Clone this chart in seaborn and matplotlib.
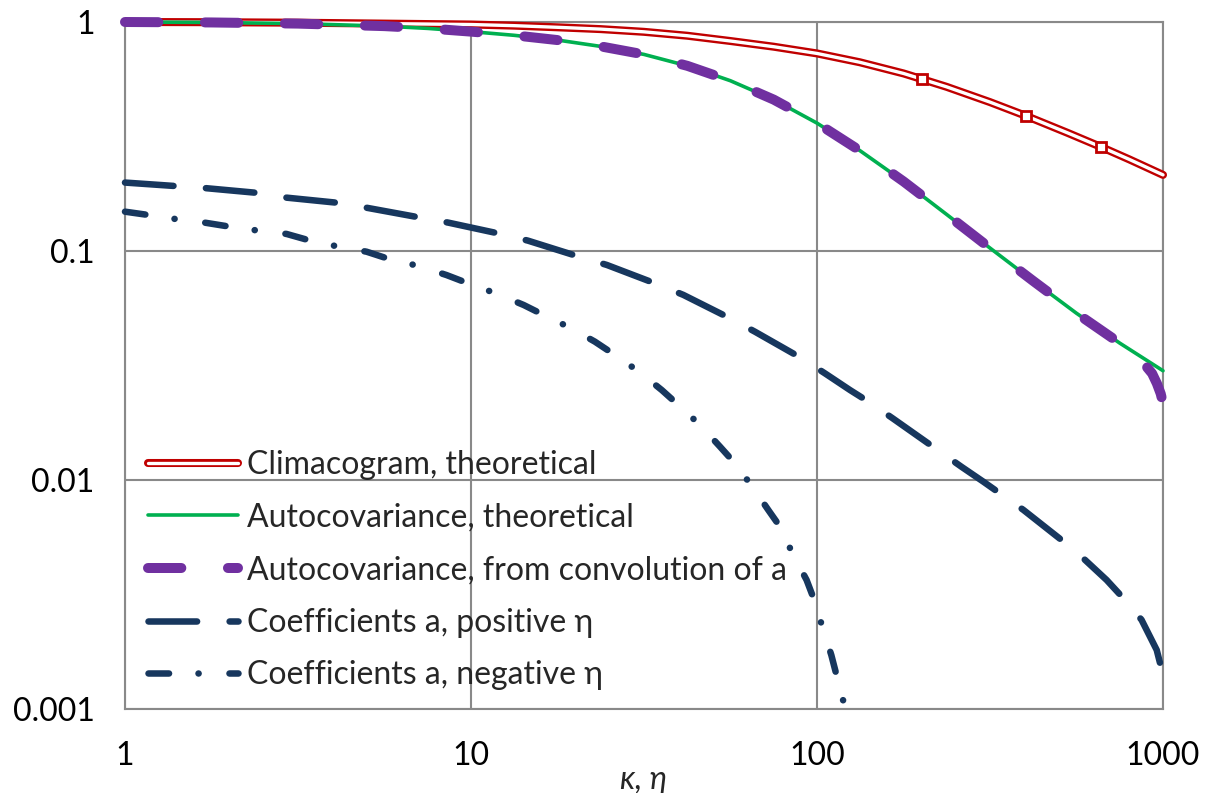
import matplotlib
matplotlib.use("Agg")
import numpy as np
import matplotlib.pyplot as plt
from matplotlib.lines import Line2D
from matplotlib.legend_handler import HandlerTuple
from matplotlib.ticker import NullLocator
import seaborn as sns

# ---------------- data ----------------
clim_x = [1, 1.78, 3.16, 5.62, 7.5, 10, 13.3, 17.8, 23.7, 31.6, 42.2, 56.2, 75, 100, 133, 178,
          201, 237, 316, 402, 530, 661, 800, 1000]
clim_y = [1.0, 0.998, 0.993, 0.984, 0.9795, 0.975, 0.964, 0.948, 0.931, 0.906, 0.871, 0.826,
          0.78, 0.729, 0.667, 0.596, 0.563, 0.521, 0.447, 0.389, 0.328, 0.285, 0.251, 0.215]
clim_marker_idx = [16, 19, 21]

acov_x = [1, 1.78, 3.16, 5.62, 7.5, 10, 13.3, 17.8, 23.7, 31.6, 42.2, 56.2, 75, 100, 133, 178,
          237, 316, 422, 562, 750, 1000]
acov_y = [1.0, 0.9954, 0.984, 0.9594, 0.9376, 0.9078, 0.875, 0.8337, 0.7825, 0.722, 0.6435,
          0.554, 0.4581, 0.3618, 0.2745, 0.2011, 0.1444, 0.1031, 0.0739, 0.0535, 0.0396, 0.030]

conv_x = [1, 1.78, 3.16, 5.62, 7.5, 10, 13.3, 17.8, 23.7, 31.6, 42.2, 56.2, 75, 100, 133, 178,
          237, 316, 422, 562, 750, 800, 850, 880, 900, 930, 960, 985, 1000]
conv_y = [1.0, 0.9954, 0.984, 0.9594, 0.9376, 0.9078, 0.875, 0.8337, 0.7825, 0.722, 0.6435,
          0.554, 0.4581, 0.3618, 0.2745, 0.2011, 0.1444, 0.1031, 0.0739, 0.0535, 0.0396,
          0.0370, 0.0350, 0.0328, 0.0310, 0.0292, 0.0264, 0.0238, 0.0216]
conv_last_dash_start = 900   # x where the final dash of the purple curve begins

pos_x = [1, 1.41, 1.72, 2.45, 2.93, 4.18, 5.05, 7.12, 8.6, 12.1, 14.6, 20.5, 24.7, 34.4, 41.1,
         56.1, 66.2, 90.3, 105.5, 124.6, 140.7, 165.4, 262, 302.6, 395, 509, 582, 687, 785,
         867, 959, 1000]
pos_y = [0.199, 0.192, 0.188, 0.179, 0.171, 0.162, 0.154, 0.140, 0.133, 0.119, 0.111, 0.0945,
         0.0869, 0.0718, 0.0643, 0.0508, 0.0444, 0.034, 0.0292, 0.0247, 0.022, 0.0186, 0.0114,
         0.00983, 0.0074, 0.00547, 0.00462, 0.00366, 0.00294, 0.00245, 0.00181, 0.00141]

neg_x = [1, 1.17, 1.42, 1.70, 2.01, 2.43, 2.93, 3.43, 4.15, 4.99, 5.83, 7.06, 8.5, 9.82, 11.8,
         14.2, 16.2, 19.3, 22.8, 26.1, 30.6, 35.6, 39.7, 45.9, 52.4, 58, 65, 72.3, 78.2, 85.4,
         93.3, 98.6, 103.8, 110, 113.8, 119]
neg_y = [0.1485, 0.1436, 0.1375, 0.133, 0.1277, 0.1227, 0.1187, 0.111, 0.1044, 0.0993, 0.092,
         0.086, 0.0785, 0.0722, 0.0653, 0.0581, 0.0526, 0.0463, 0.0402, 0.0351, 0.0297, 0.0247,
         0.0213, 0.0174, 0.014, 0.0118, 0.00935, 0.0074, 0.00625, 0.0047, 0.00366, 0.00294,
         0.00226, 0.00172, 0.00141, 0.00109]

labels = ["Climacogram, theoretical",
          "Autocovariance, theoretical",
          "Autocovariance, from convolution of a",
          "Coefficients a, positive η",
          "Coefficients a, negative η"]

x_ticks = [1, 10, 100, 1000]
x_tick_labels = ["1", "10", "100", "1000"]
y_ticks = [0.001, 0.01, 0.1, 1]
y_tick_labels = ["0.001", "0.01", "0.1", "1"]
x_label = "κ, η"

# ---------------- style ----------------
sns.set_style("white")
plt.rcParams["font.family"] = ["Lato", "DejaVu Sans"]
plt.rcParams["lines.scale_dashes"] = False

RED = "#C00000"
GREEN = "#00B050"
PURPLE = "#7030A0"
NAVY = "#17375E"
GRID = "#898989"
FS = 23
DPI = 100

fig = plt.figure(figsize=(12.11, 7.93), dpi=DPI)
ax = fig.add_axes([125 / 1211, 1 - 709 / 793, (1163 - 125) / 1211, (709 - 22) / 793])
ax.set_xscale("log")
ax.set_yscale("log")
ax.set_xlim(1, 1000)
ax.set_ylim(0.001, 1)

common = dict(ax=ax, estimator=None, legend=False, clip_on=False)

RED_LW, WHITE_LW = 5.8, 2.4
sns.lineplot(x=clim_x, y=clim_y, color=RED, lw=RED_LW, solid_capstyle="round", zorder=3, **common)
sns.lineplot(x=clim_x, y=clim_y, color="white", lw=WHITE_LW, solid_capstyle="round", zorder=3.1,
             marker="s", markevery=clim_marker_idx, ms=6.5, mfc="white", mec=RED, mew=2.0,
             **common)
sns.lineplot(x=acov_x, y=acov_y, color=GREEN, lw=2.6, solid_capstyle="round", zorder=4, **common)
l_green = ax.lines[-1]

# purple dash pattern: keep the reference's dash length, tune the period so that a dash
# starts exactly where the final hook of the curve begins (as in the reference)
ax.set_xlim(1, 1000)
ax.set_ylim(0.001, 1)
pts = ax.transData.transform(np.column_stack([conv_x, conv_y]))
seg = np.hypot(np.diff(pts[:, 0]), np.diff(pts[:, 1])) * 72.0 / DPI
cum = np.concatenate([[0.0], np.cumsum(seg)])
L_end = cum[conv_x.index(conv_last_dash_start)]
p_on, p_period0 = 24.0, 56.1
n_per = max(1, round(L_end / p_period0))
p_off = L_end / n_per - p_on

sns.lineplot(x=conv_x, y=conv_y, color=PURPLE, lw=7.2, linestyle=(0, (p_on, p_off)),
             dash_capstyle="round", zorder=5, **common)
l_purple = ax.lines[-1]
sns.lineplot(x=pos_x, y=pos_y, color=NAVY, lw=4.7, linestyle=(0, (35, 23.4)),
             dash_capstyle="round", zorder=6, **common)
l_pos = ax.lines[-1]
sns.lineplot(x=neg_x, y=neg_y, color=NAVY, lw=4.7, linestyle=(0, (14.8, 21.2, 0.1, 22.2)),
             dash_capstyle="round", zorder=6, **common)
l_neg = ax.lines[-1]

ax.set_xlim(1, 1000)
ax.set_ylim(0.001, 1)
ax.set_xticks(x_ticks)
ax.set_xticklabels(x_tick_labels)
ax.set_yticks(y_ticks)
ax.set_yticklabels(y_tick_labels)
ax.xaxis.set_minor_locator(NullLocator())
ax.yaxis.set_minor_locator(NullLocator())

ax.grid(True, which="major", color=GRID, lw=1.5, zorder=0)
ax.set_axisbelow(True)
for s in ax.spines.values():
    s.set_color(GRID)
    s.set_linewidth(1.5)

ax.tick_params(axis="x", length=0, pad=23, labelsize=FS, labelcolor="black")
ax.tick_params(axis="y", length=8, width=1.5, color=GRID, pad=14, labelsize=FS,
               labelcolor="black")

ax.set_xlabel(x_label, fontsize=FS, fontstyle="italic")
ax.xaxis.set_label_coords(0.5, -0.103)
ax.xaxis.label.set_va("center")
ax.set_ylabel("")

h_red = (Line2D([], [], color=RED, lw=RED_LW, solid_capstyle="round"),
         Line2D([], [], color="white", lw=WHITE_LW, solid_capstyle="round"))
handles = [h_red, l_green, l_purple, l_pos, l_neg]
ax.legend(handles, labels, handler_map={tuple: HandlerTuple(ndivide=1, pad=0)},
          loc="upper left", bbox_to_anchor=(0.022, 0.3774), frameon=False, borderpad=0,
          borderaxespad=0, handlelength=2.82, handletextpad=0.28, labelspacing=0.71,
          fontsize=FS)

fig.savefig("out.png", dpi=DPI)
